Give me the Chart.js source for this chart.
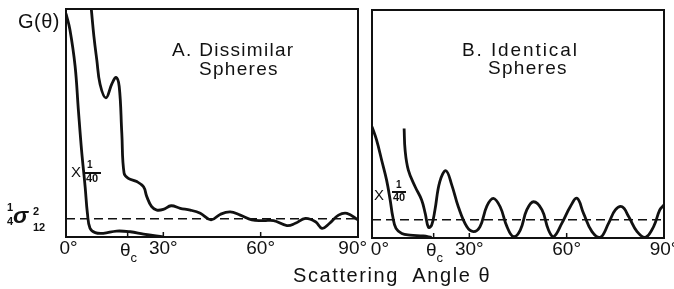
<!DOCTYPE html>
<html>
<head>
<meta charset="utf-8">
<script src="https://cdn.jsdelivr.net/npm/chart.js@4/dist/chart.umd.min.js"></script>
<style>
  html, body { margin:0; padding:0; background:#fff; }
  #wrap { position:relative; width:674px; height:289px; overflow:hidden; background:#fff; font-family:"Liberation Sans", Arial, sans-serif; color:#111; }
  canvas { position:absolute; left:0; top:0; }
  .t { position:absolute; white-space:nowrap; line-height:1; }
</style>
</head>
<body>
<div id="wrap">
  <canvas id="cA" width="674" height="289"></canvas>
  <canvas id="cB" width="674" height="289"></canvas>

  <div class="t" style="left:18px;top:11px;font-size:20px;letter-spacing:0.5px;">G(θ)</div>

  <div class="t" style="left:7px;top:202px;font-size:11px;font-weight:bold;">1</div>
  <div class="t" style="left:7px;top:216px;font-size:11px;font-weight:bold;">4</div>
  <div class="t" style="left:13px;top:204px;font-size:23px;font-style:italic;font-weight:bold;">σ</div>
  <div class="t" style="left:33px;top:206px;font-size:11px;font-weight:bold;">2</div>
  <div class="t" style="left:33px;top:222px;font-size:11px;font-weight:bold;">12</div>

  <div class="t" style="left:172px;top:40px;font-size:19px;letter-spacing:1.3px;">A. Dissimilar</div>
  <div class="t" style="left:199px;top:59px;font-size:19px;letter-spacing:1.3px;">Spheres</div>
  <div class="t" style="left:462px;top:40px;font-size:19px;letter-spacing:1.9px;">B. Identical</div>
  <div class="t" style="left:488px;top:58px;font-size:19px;letter-spacing:1.3px;">Spheres</div>

  <div class="t" style="left:71px;top:164px;font-size:15px;">X</div>
  <div class="t" style="left:87px;top:160px;font-size:10px;font-weight:bold;">1</div>
  <div style="position:absolute;left:84px;top:172px;width:17px;height:1.5px;background:#111;"></div>
  <div class="t" style="left:86px;top:173px;font-size:11px;font-weight:bold;">40</div>

  <div class="t" style="left:374px;top:187px;font-size:15px;">X</div>
  <div class="t" style="left:396px;top:180px;font-size:10px;font-weight:bold;">1</div>
  <div style="position:absolute;left:392px;top:191px;width:14px;height:1.5px;background:#111;"></div>
  <div class="t" style="left:393px;top:192px;font-size:11px;font-weight:bold;">40</div>

  <div class="t" style="left:120px;top:240px;font-size:19px;">θ<span style="font-size:13px;position:relative;top:6px;">c</span></div>
  <div class="t" style="left:426px;top:240px;font-size:19px;">θ<span style="font-size:13px;position:relative;top:6px;">c</span></div>

  <div class="t" style="left:293px;top:265px;font-size:20px;letter-spacing:1.6px;">Scattering&nbsp; Angle θ</div>
</div>
<script>
// ---- data (angle in degrees, G in arbitrary units 0..100) ----
const tickValues = [0, 19, 30, 60, 90];
const tickLabelsA = [' 0°', '', '30°', '60°', '90°  '];
const tickLabelsB = ['   0°', '', '30°', '60°', '90°'];
const referenceLevel = 8;   // 1/4 sigma12^2

// Panel A: dissimilar spheres
const aSteepX = [0, 1.2, 2.8, 3.8, 4.8, 5.9, 6.6, 7.4, 9, 11.5, 15.6, 19.8, 23.9, 30];
const aSteepY = [98, 91, 75, 56, 38, 22, 10.4, 3.8, 1.9, 1.6, 2.6, 2.3, 1.3, 0];
const aMainX = [7.8, 8.6, 9.5, 10.5, 12.3, 14.1, 15.4, 16.4, 17.2, 17.9, 19.2, 21.8, 23.9, 24.9, 26.4, 28, 30, 32.4, 35.2, 38.3, 41.4, 44.7, 47.5, 50.6, 53.7, 57.3, 60.9, 64, 68.1, 70.7, 73.8, 76.9, 78.9, 81, 84, 86.6, 90];
const aMainY = [100, 88, 77.6, 67, 61, 67, 70, 66, 45.5, 28, 25.7, 24.3, 22, 17.7, 13.3, 11.8, 12.1, 13.7, 12.6, 11.8, 10.4, 7.5, 9.9, 11, 9.6, 7.5, 7.2, 7.2, 5, 6, 8.2, 6.7, 3.8, 5.7, 9.6, 10.4, 7.5];

// Panel B: identical spheres
const bSteepX = [0, 1.4, 3, 4.5, 5.6, 6.4, 7.4, 9.2, 11.7, 15.8, 18.4];
const bSteepY = [48.8, 43, 34, 25.4, 16.7, 9.4, 4.2, 2, 1.3, 0.9, 0.3];
const bMainX = [9.9, 10.2, 11.2, 13.3, 15.3, 16.4, 17.4, 18.4, 19.4, 20.9, 22.8, 24.6, 26.6, 29.2, 31.3, 33.3, 35.4, 37.4, 39.5, 41.6, 43.6, 45.7, 47.7, 49.8, 52.4, 54.4, 56, 58.5, 61.1, 63.2, 65.2, 67.8, 70.4, 72.9, 75, 77.1, 79.1, 81.7, 84.3, 86.8, 88.7, 90];
const bMainY = [48, 38.6, 29.8, 22.5, 16.7, 10.8, 4.7, 5.7, 12.3, 24.7, 29.5, 23.2, 13.7, 5, 2.8, 5, 14, 17.4, 13.7, 5, 0.6, 3.5, 12.3, 15.9, 12.3, 3.5, 0.6, 6.4, 13.7, 17.4, 10.8, 2.8, 0.3, 6.4, 12.3, 13.7, 9.4, 2.8, 0.3, 5, 12.3, 14.5];

const INK = '#111';
const FONT = '"Liberation Sans", Arial, sans-serif';

function pts(xs, ys) { return xs.map((x, i) => ({ x: x, y: ys[i] })); }

const framePlugin = {
  id: 'frame',
  afterDatasetsDraw(chart) {
    const a = chart.chartArea, ctx = chart.ctx, sx = chart.scales.x;
    ctx.save();
    ctx.strokeStyle = INK;
    ctx.lineWidth = 2;
    ctx.strokeRect(a.left, a.top, a.right - a.left, a.bottom - a.top);
    ctx.lineWidth = 1.5;
    [19, 30, 60].forEach(v => {
      const px = sx.getPixelForValue(v);
      ctx.beginPath(); ctx.moveTo(px, a.bottom); ctx.lineTo(px, a.bottom - 5); ctx.stroke();
    });
    ctx.restore();
  }
};

function makeChart(id, pad, steep, main, labels) {
  return new Chart(document.getElementById(id), {
    type: 'line',
    data: {
      datasets: [
        { data: [{ x: 0, y: referenceLevel }, { x: 90, y: referenceLevel }], borderColor: INK, borderWidth: 1.3, borderDash: [9, 5], tension: 0 },
        { data: steep, borderColor: INK, borderWidth: 2.8, tension: 0.4 },
        { data: main, borderColor: INK, borderWidth: 2.8, tension: 0.4 }
      ]
    },
    options: {
      animation: false,
      responsive: false,
      maintainAspectRatio: false,
      layout: { padding: pad },
      plugins: { legend: { display: false }, tooltip: { enabled: false } },
      elements: { point: { radius: 0 } },
      scales: {
        x: {
          type: 'linear', min: 0, max: 90,
          border: { display: false },
          grid: { display: false, drawTicks: false },
          afterBuildTicks: s => { s.ticks = tickValues.map(v => ({ value: v })); },
          afterFit: s => { s.height = 30; s.paddingLeft = 0; s.paddingRight = 0; },
          ticks: {
            autoSkip: false, maxRotation: 0, minRotation: 0, padding: 0,
            color: INK, font: { family: FONT, size: 19 },
            callback: v => { const i = tickValues.indexOf(v); return i >= 0 ? labels[i] : ''; }
          }
        },
        y: { type: 'linear', min: 0, max: 100, display: false }
      }
    },
    plugins: [framePlugin]
  });
}

makeChart('cA', { left: 66, right: 316, top: 9, bottom: 22 }, pts(aSteepX, aSteepY), pts(aMainX, aMainY), tickLabelsA);
makeChart('cB', { left: 372, right: 10, top: 10, bottom: 21 }, pts(bSteepX, bSteepY), pts(bMainX, bMainY), tickLabelsB);
</script>
</body>
</html>
